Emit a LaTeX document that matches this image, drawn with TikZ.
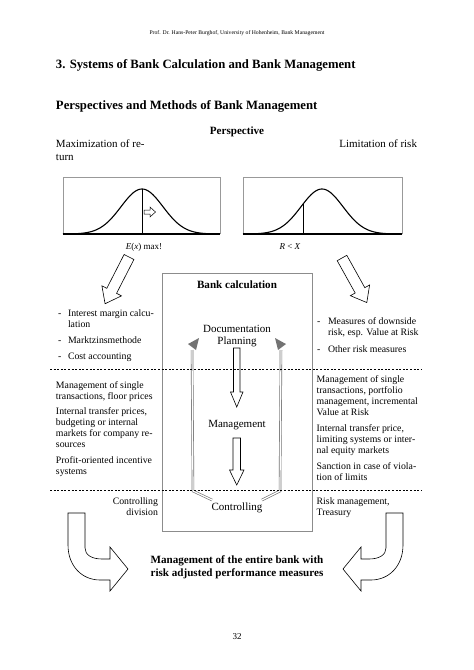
\documentclass[tikz,border=0pt]{standalone}
\usepackage{fontspec}
\setmainfont{Liberation Serif}
\newcommand\fHead{\fontsize{5.7}{7}\selectfont}
\newcommand\fTitle{\fontsize{12.7}{15}\selectfont\bfseries}
\newcommand\fBody{\fontsize{11}{13}\selectfont}
\newcommand\fBodyB{\fontsize{11.1}{12.7}\selectfont\bfseries}
\newcommand\fList{\fontsize{9.8}{11}\selectfont}
\newcommand\fSmall{\fontsize{9}{11}\selectfont}
\begin{document}
\begin{tikzpicture}[x=1pt,y=-1pt,
  txt/.style={inner sep=0pt, outer sep=0pt},
  graybox/.style={draw=black!45, line width=0.8pt},
  curvebox/.style={draw=black!40, line width=0.8pt},
  bell/.style={line width=1.1pt, black},
  hollow/.style={draw=black, line width=0.6pt, fill=white, line join=miter},
  sep/.style={line width=0.5pt, dash pattern=on 2pt off 1.6pt},
  loopline/.style={draw=black!55, line width=0.65pt, double=white, double distance=1.2pt},
  loophead/.style={fill=black!55},
]
\useasboundingbox (0,0) rectangle (474,670);

% header and titles
\node[txt, font=\fHead, anchor=base] (hdr) at (237,34) {Prof. Dr. Hans-Peter Burghof, University of Hohenheim, Bank Management};
\node[txt, font=\fTitle, anchor=base west] (title) at (56,68) {3. Systems of Bank Calculation and Bank Management};
\node[txt, font=\fTitle, anchor=base west] (subtitle) at (56,109) {Perspectives and Methods of Bank Management};

\node[txt, font=\fBodyB, anchor=base] (persp) at (237,134.5) {Perspective};
\node[txt, font=\fBody, anchor=base west, align=left] (maxret) at (56,160.5) {Maximization of re-\\turn};
\node[txt, font=\fBody, anchor=base east] (limrisk) at (417,147.5) {Limitation of risk};

% distribution boxes
\draw[curvebox] (63,234) -- (63,177) -- (220,177) -- (220,234);
\draw[bell] (63,234) -- (220,234);
\draw[bell] plot[domain=63:220, samples=90] (\x, {234-45*exp(-((\x-142)^2)/882)});
\draw[line width=0.6pt] (142,189) -- (142,234);
\draw[hollow, line width=0.5pt] (144,210) -- (150,210) -- (150,207) -- (155.5,212) -- (150,217) -- (150,214) -- (144,214) -- cycle;

\draw[curvebox] (243,234) -- (243,177) -- (402,177) -- (402,234);
\draw[bell] (243,234) -- (402,234);
\draw[bell] plot[domain=243:402, samples=90] (\x, {234-45*exp(-((\x-322)^2)/882)});
\draw[line width=0.6pt] (303,204) -- (303,234);

\node[txt, font=\fSmall, anchor=base] (ex) at (144,249) {\textit{E}(\textit{x}) max!};
\node[txt, font=\fSmall, anchor=base] (rx) at (290,249) {\textit{R} < \textit{X}};

% diagonal hollow arrows
\begin{scope}[shift={(129,257)}, rotate=-117.1]
\draw[hollow] (0,-5.5) -- (38,-5.5) -- (38,-11) -- (52.5,0) -- (38,11) -- (38,5.5) -- (0,5.5) -- cycle;
\end{scope}
\begin{scope}[shift={(342,258)}, rotate=-60.9]
\draw[hollow] (0,-5.5) -- (37,-5.5) -- (37,-11) -- (51,0) -- (37,11) -- (37,5.5) -- (0,5.5) -- cycle;
\end{scope}

% bank calculation box
\draw[graybox] (162,273) rectangle (312,531);
\node[txt, font=\fBodyB, anchor=base] (bankcalc) at (237,288.5) {Bank calculation};
\node[txt, font=\fBody, anchor=base, align=center] (docplan) at (237,344.5) {Documentation\\[-1pt]Planning};
\node[txt, font=\fBody, anchor=base] (mgmt) at (237,427.5) {Management};
\node[txt, font=\fBody, anchor=base] (ctrl) at (237,510.5) {Controlling};

% down arrows
\draw[hollow] (233.5,348) -- (240,348) -- (240,392) -- (243,392) -- (236.75,407) -- (230.5,392) -- (233.5,392) -- cycle;
\draw[hollow] (233,438) -- (240.5,438) -- (240.5,470) -- (244,470) -- (236.75,485) -- (229.5,470) -- (233,470) -- cycle;

% gray loop arrows
\draw[loopline] (212,500) -- (193,491) -- (192,350);
\fill[loophead] (199,338) -- (188,344) -- (196,350) -- cycle;
\draw[loopline] (262,500) -- (280,491) -- (281,350);
\fill[loophead] (275,338) -- (286,344) -- (278,350) -- cycle;

% separators
\draw[sep] (50,369) -- (422,369);
\draw[sep] (50,490) -- (422,490);

% left column
\node[txt, font=\fList, anchor=base west] (d1) at (58,316) {-};
\node[txt, font=\fList, anchor=base west, align=left] (l1) at (68,327.5) {Interest margin calcu-\\lation};
\node[txt, font=\fList, anchor=base west] (d2) at (58,343) {-};
\node[txt, font=\fList, anchor=base west] (l2) at (68,343) {Marktzinsmethode};
\node[txt, font=\fList, anchor=base west] (d3) at (58,359.5) {-};
\node[txt, font=\fList, anchor=base west] (l3) at (68,359.5) {Cost accounting};

\node[txt, font=\fList, anchor=base west, align=left] (lm1) at (56,399.2) {Management of single\\transactions, floor prices};
\node[txt, font=\fList, anchor=base west, align=left] (lm2) at (56,447.8) {Internal transfer prices,\\budgeting or internal\\markets for company re-\\sources};
\node[txt, font=\fList, anchor=base west, align=left] (lm3) at (56,474.8) {Profit-oriented incentive\\systems};
\node[txt, font=\fList, anchor=base east, align=right] (ctrldiv) at (158,515.2) {Controlling\\division};

% right column
\node[txt, font=\fList, anchor=base west] (d4) at (317,324.7) {-};
\node[txt, font=\fList, anchor=base west, align=left] (r1) at (328,335.2) {Measures of downside\\risk, esp. Value at Risk};
\node[txt, font=\fList, anchor=base west] (d5) at (317,352) {-};
\node[txt, font=\fList, anchor=base west] (r2) at (328,352) {Other risk measures};

\node[txt, font=\fList, anchor=base west, align=left] (rm1) at (316.7,415.8) {Management of single\\transactions, portfolio\\management, incremental\\Value at Risk};
\node[txt, font=\fList, anchor=base west, align=left] (rm2) at (316.7,453.2) {Internal transfer price,\\limiting systems or inter-\\nal equity markets};
\node[txt, font=\fList, anchor=base west, align=left] (rm3) at (316.7,480.2) {Sanction in case of viola-\\tion of limits};
\node[txt, font=\fList, anchor=base west, align=left] (riskm) at (316.7,515.2) {Risk management,\\Treasury};

% bottom curved arrows
\draw[hollow] (68,513) -- (85,513) -- (85,548) .. controls (85,555) and (92,559) .. (102,559) -- (110,559) -- (110,547) -- (128,569) -- (110,591) -- (110,580) -- (100,580) .. controls (82,580) and (68,566) .. (68,545) -- cycle;
\begin{scope}[xshift=471pt, xscale=-1]
\draw[hollow] (68,513) -- (85,513) -- (85,548) .. controls (85,555) and (92,559) .. (102,559) -- (110,559) -- (110,547) -- (128,569) -- (110,591) -- (110,580) -- (100,580) .. controls (82,580) and (68,566) .. (68,545) -- cycle;
\end{scope}

\node[txt, font=\fBodyB, anchor=base, align=center] (whole) at (237,576.3) {Management of the entire bank with\\risk adjusted performance measures};

\node[txt, font=\fSmall, anchor=base] (pnum) at (237,639) {32};
\end{tikzpicture}
\end{document}
